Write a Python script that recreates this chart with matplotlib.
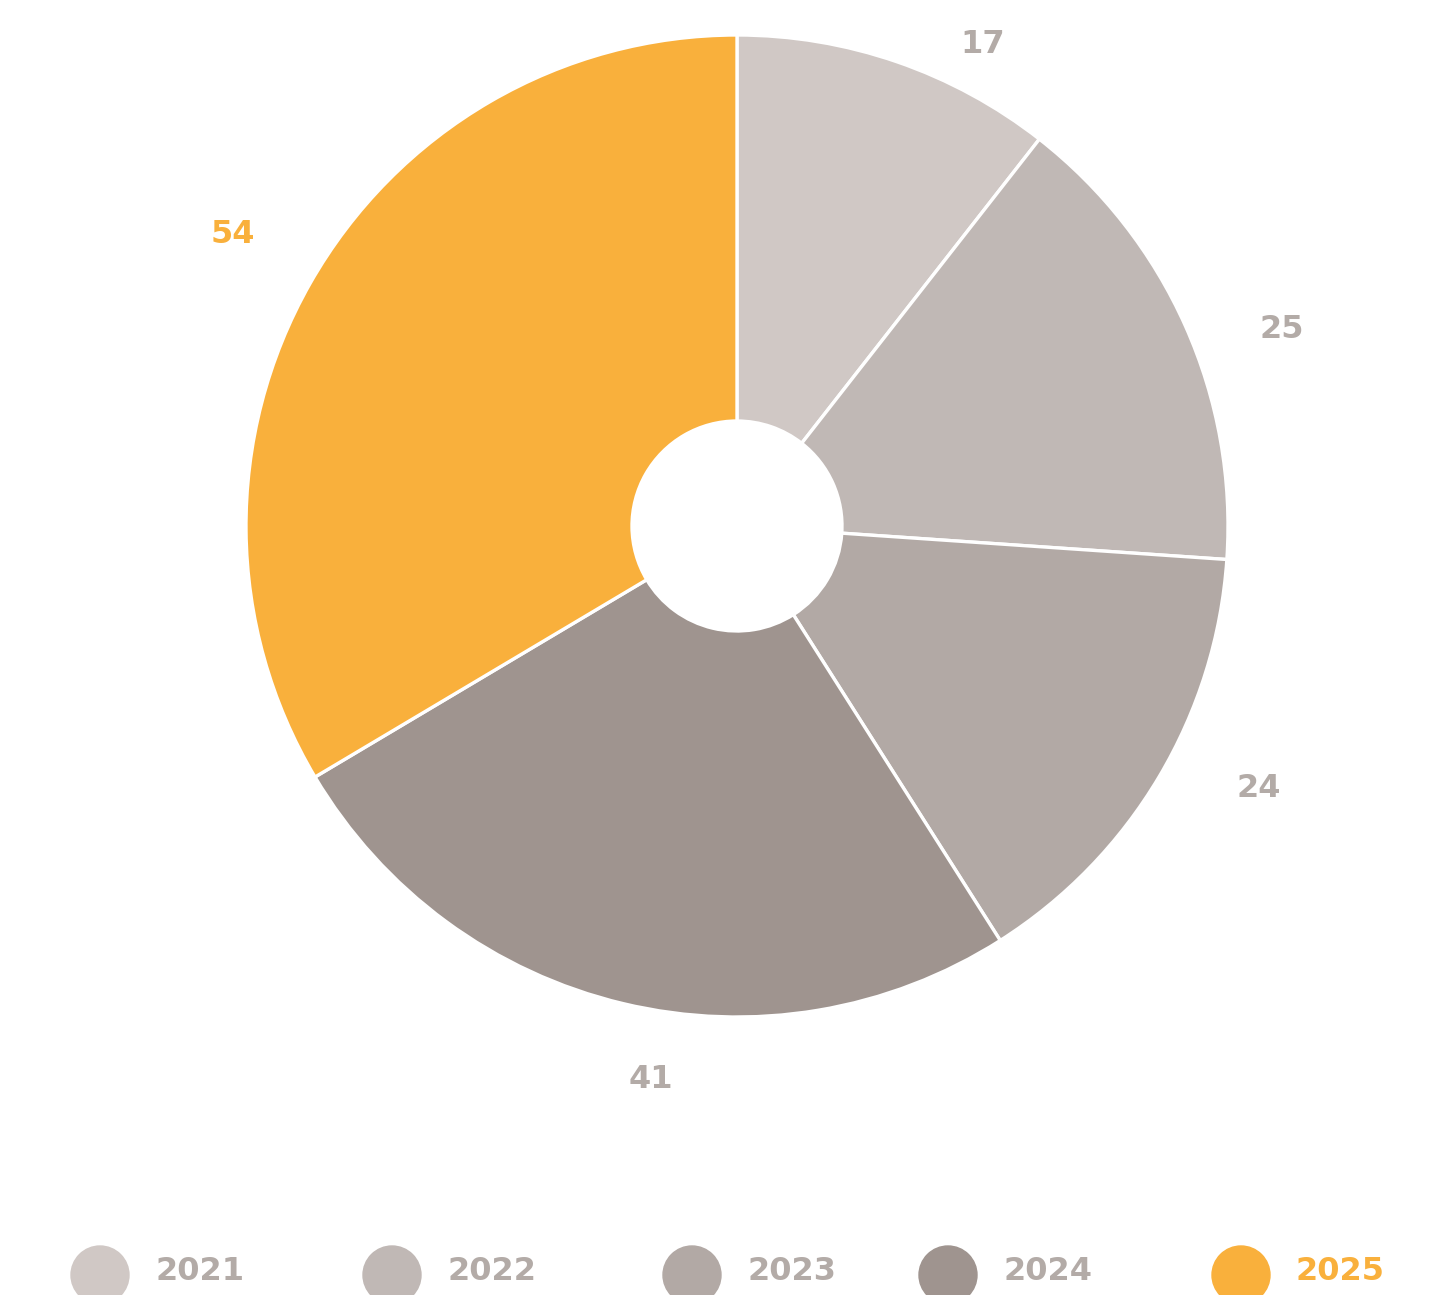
import numpy as np
import matplotlib
matplotlib.use("Agg")
import matplotlib.pyplot as plt
from matplotlib.patches import Circle

years = ["2021", "2022", "2023", "2024", "2025"]
values = [17, 25, 24, 41, 54]
colors = ["#D0C8C5", "#C0B8B5", "#B2A9A5", "#9F948F", "#F9B03C"]
label_colors = ["#B3ABA7", "#B3ABA7", "#B3ABA7", "#B3ABA7", "#F9B03C"]

# layout: per-label angular nudge (degrees) and radial distance factor
label_nudge = [-8.0, -4.2, 4.1, 4.6, -0.4]
label_rfac = [1.10, 1.18, 1.19, 1.14, 1.185]

W, H = 1431, 1295
fig = plt.figure(figsize=(W / 100, H / 100), dpi=100)
ax = fig.add_axes([0, 0, 1, 1])

cx, cy = 737, H - 526
R = 491
hole = 105

ax.pie(values, colors=colors, startangle=90, counterclock=False,
       center=(cx, cy), radius=R, frame=True,
       wedgeprops=dict(width=R - hole, edgecolor="white", linewidth=2.4))
ax.set_xlim(0, W)
ax.set_ylim(0, H)
ax.set_aspect("equal")
ax.axis("off")

total = sum(values)
cum = 0
for v, c, dn, rf in zip(values, label_colors, label_nudge, label_rfac):
    mid = 90 - (cum + v / 2) / total * 360 + dn
    cum += v
    r = R * rf
    x = cx + r * np.cos(np.radians(mid))
    y = cy + r * np.sin(np.radians(mid))
    ax.text(x, y, str(v), ha="center", va="center", fontsize=23,
            fontweight="bold", color=c, family="DejaVu Sans")

leg_x = [100, 392, 692, 948, 1241]
for x, yr, col, tc in zip(leg_x, years, colors, label_colors):
    ax.add_patch(Circle((x, 20), 29, color=col, clip_on=False))
    ax.text(x + 55, 24, yr, ha="left", va="center", fontsize=23,
            fontweight="bold", color=tc, family="DejaVu Sans")

fig.savefig("out.png", dpi=100)
